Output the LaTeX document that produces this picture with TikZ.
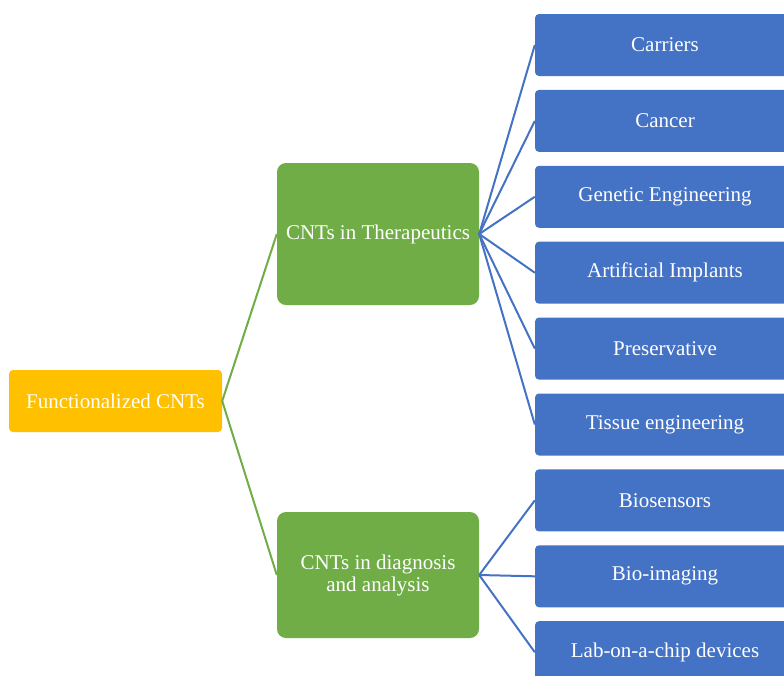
\documentclass[tikz,border=0pt]{standalone}
\usepackage{fontspec}
\setmainfont{Liberation Serif}
\usepackage{xcolor}
\usetikzlibrary{positioning,calc}
\definecolor{cntgold}{HTML}{FFC000}
\definecolor{cntgreen}{HTML}{70AD47}
\definecolor{cntblue}{HTML}{4472C4}

\begin{document}
\begin{tikzpicture}[x=1pt,y=-1pt,
    boite/.style = {inner sep=0pt,text=white,align=center,
                    font=\fontsize{21}{22}\selectfont},
    racine/.style = {boite,fill=cntgold,rounded corners=4pt,
                     minimum width=213pt,minimum height=62pt},
    branche/.style = {boite,fill=cntgreen,rounded corners=9pt,
                      minimum width=202pt},
    feuille/.style = {boite,fill=cntblue,rounded corners=4pt,
                      minimum width=260pt,minimum height=62pt},
    lienvert/.style = {cntgreen,line width=2pt},
    lienbleu/.style = {cntblue,line width=2pt},
  ]

  % ── Cadre ─────────────────────────────────────────────────────────────────
  \useasboundingbox (0,0) rectangle (784,675);

  % ── Racine et branches ────────────────────────────────────────────────────
  \node[racine] (func) at (115.5,401) {Functionalized CNTs};
  \node[branche,minimum height=142pt] (thera) at (378,234) {CNTs in Therapeutics};
  \node[branche,minimum height=126pt] (diag) at (378,575)
       {CNTs in diagnosis\\and analysis};

  \draw[lienvert] (func.east) -- (thera.west);
  \draw[lienvert] (func.east) -- (diag.west);

  % ── Applications thérapeutiques ───────────────────────────────────────────
  \foreach \i/\t in {0/Carriers, 1/Cancer, 2/Genetic Engineering,
                     3/Artificial Implants, 4/Preservative, 5/Tissue engineering} {
    \node[feuille] (app\i) at (665,45+75.9*\i) {\t};
    \draw[lienbleu] (thera.east) -- (app\i.west);
  }

  % ── Diagnostic et analyse ─────────────────────────────────────────────────
  \foreach \i/\t in {6/Biosensors, 7/Bio-imaging, 8/Lab-on-a-chip devices} {
    \node[feuille] (app\i) at (665,45+75.9*\i) {\t};
    \draw[lienbleu] (diag.east) -- (app\i.west);
  }

\end{tikzpicture}
\end{document}
